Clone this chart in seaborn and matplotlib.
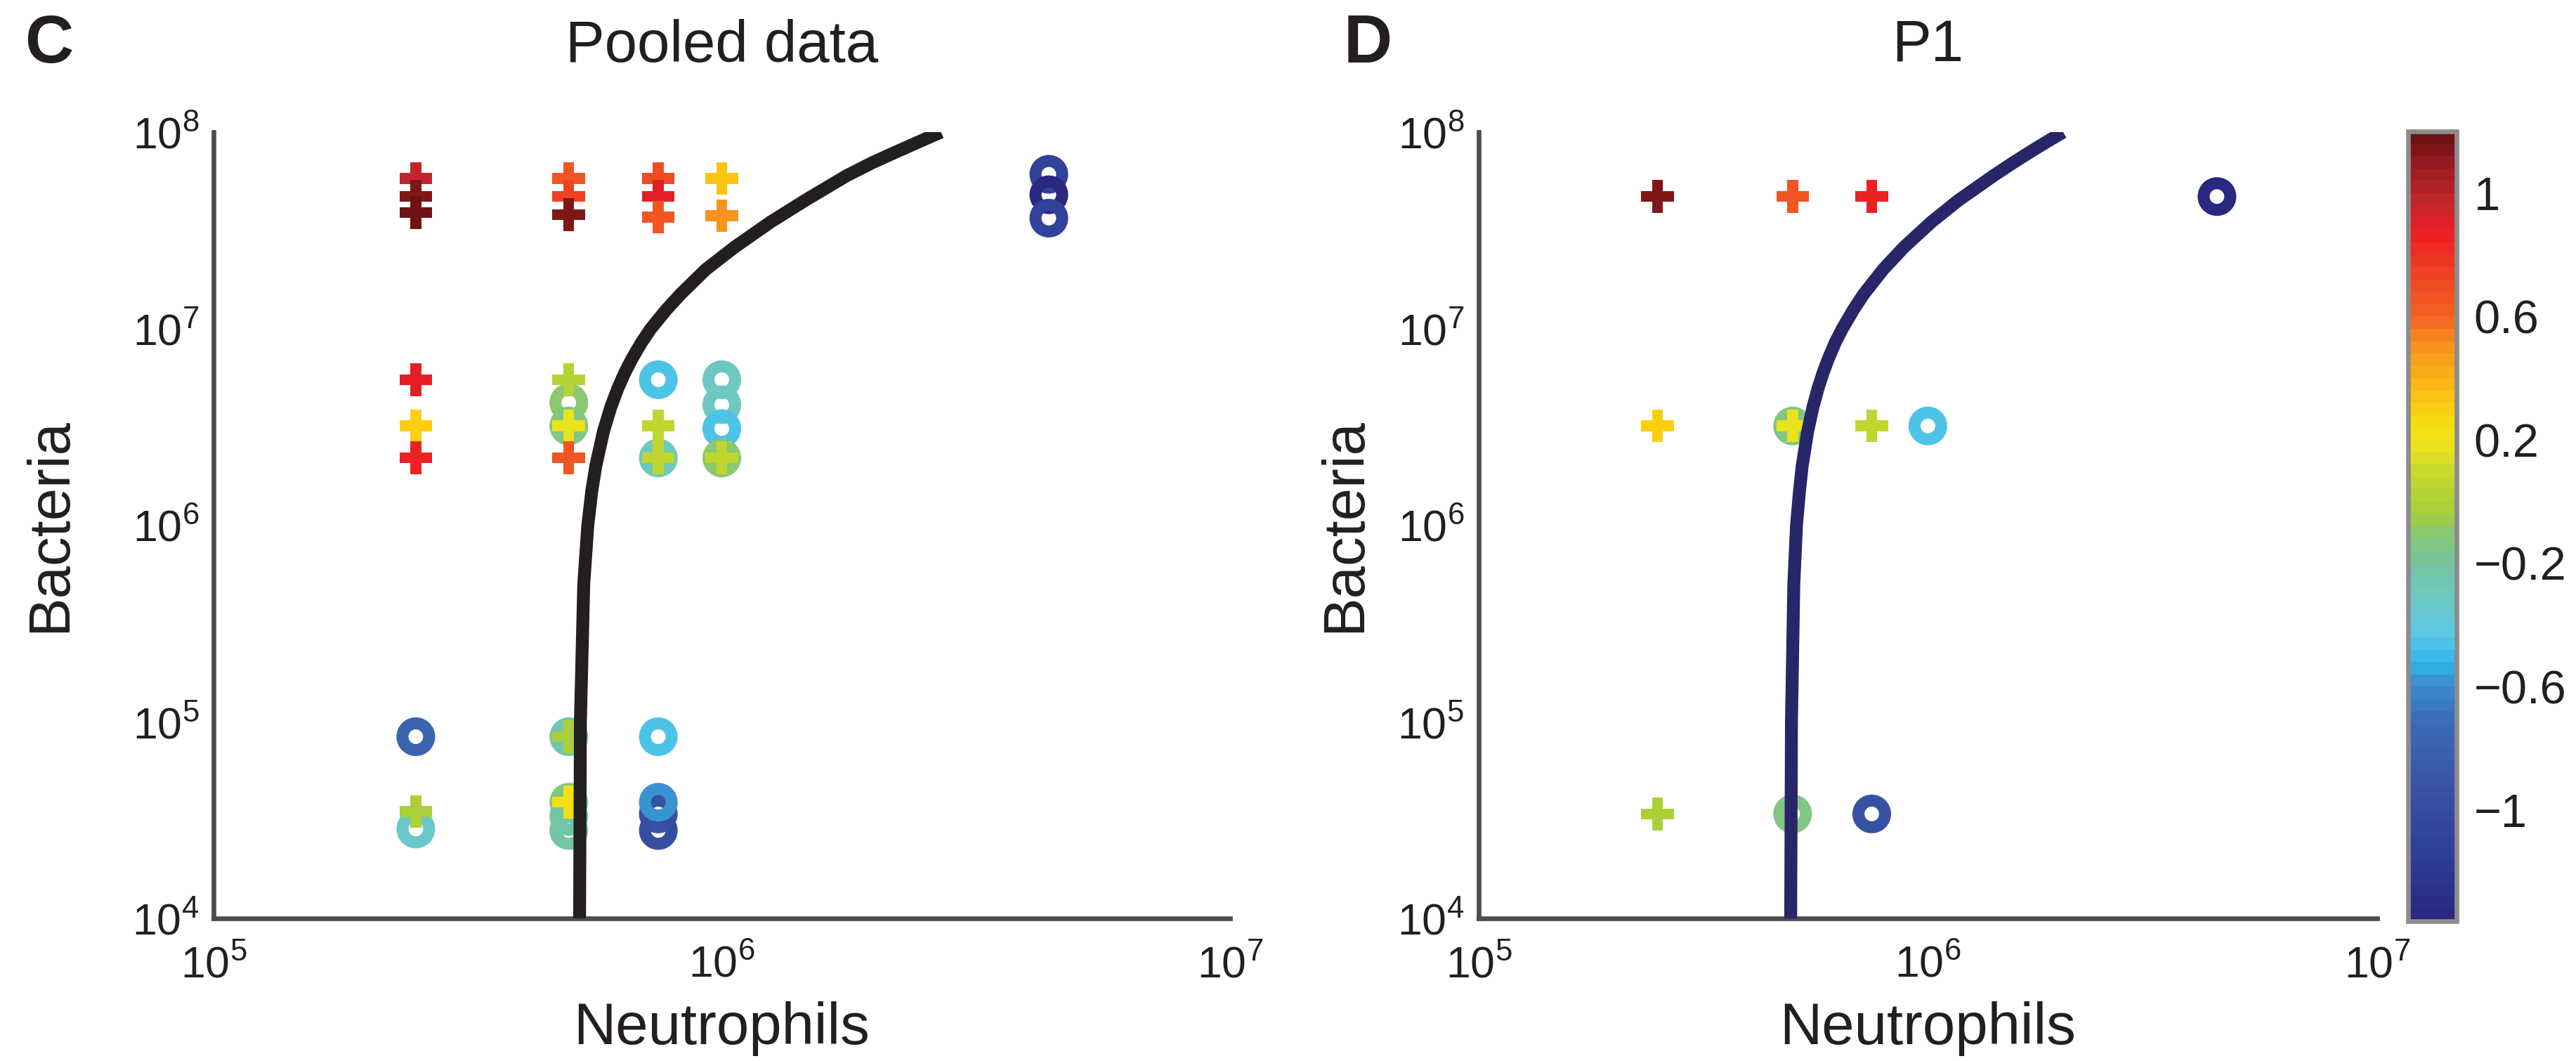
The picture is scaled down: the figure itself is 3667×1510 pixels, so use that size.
import numpy as np
import pandas as pd
import matplotlib
matplotlib.use("Agg")
import matplotlib.pyplot as plt
import seaborn as sns
from matplotlib import font_manager
from matplotlib.colors import LinearSegmentedColormap, ListedColormap, Normalize
from matplotlib.cm import ScalarMappable
from matplotlib.ticker import FixedLocator, LogLocator, NullFormatter

# ---------------- data ----------------
# Panel C: pooled data.  "+" = cleared, "o" = not cleared; value = colour scale
c_plus_neut = [2.5e5, 2.5e5, 2.5e5, 5e5, 5e5, 5e5, 7.5e5, 7.5e5, 7.5e5, 1e6, 1e6,
               2.5e5, 2.5e5, 2.5e5, 5e5, 5e5, 5e5, 7.5e5, 7.5e5, 1e6,
               2.5e5, 5e5, 5e5]
c_plus_bact = [5.8e7, 4.7e7, 3.9e7, 5.8e7, 4.7e7, 3.8e7, 5.8e7, 4.7e7, 3.7e7, 5.8e7, 3.75e7,
               5.5e6, 3.2e6, 2.2e6, 5.5e6, 3.2e6, 2.2e6, 3.2e6, 2.2e6, 2.2e6,
               3.5e4, 8.4e4, 3.9e4]
c_plus_val = [0.97, 1.15, 1.17, 0.65, 0.72, 1.15, 0.68, 0.88, 0.65, 0.35, 0.50,
              0.88, 0.28, 0.85, 0.00, 0.17, 0.65, 0.07, 0.07, 0.07,
              -0.03, -0.03, 0.20]

c_ring_neut = [4.4e6, 4.4e6, 4.4e6, 5e5, 5e5, 7.5e5, 7.5e5, 1e6, 1e6, 1e6, 1e6,
               2.5e5, 2.5e5, 5e5, 5e5, 5e5, 5e5, 7.5e5, 7.5e5, 7.5e5, 7.5e5]
c_ring_bact = [6.1e7, 4.8e7, 3.65e7, 4.2e6, 3.2e6, 5.5e6, 2.2e6, 5.5e6, 4.1e6, 3.1e6, 2.2e6,
               8.4e4, 2.85e4, 8.4e4, 3.9e4, 3.3e4, 2.8e4, 8.4e4, 3.4e4, 2.8e4, 3.9e4]
c_ring_val = [-1.10, -1.34, -1.12, -0.10, -0.15, -0.45, -0.30, -0.30, -0.32, -0.45, -0.10,
              -0.80, -0.33, -0.25, -0.15, -0.22, -0.22, -0.45, -0.95, -1.00, -0.60]

# Panel D: patient P1
d_plus_neut = [2.5e5, 5e5, 7.5e5, 2.5e5, 5e5, 7.5e5, 2.5e5]
d_plus_bact = [4.7e7, 4.7e7, 4.7e7, 3.2e6, 3.2e6, 3.2e6, 3.4e4]
d_plus_val = [1.15, 0.65, 0.87, 0.28, 0.17, 0.07, -0.03]

d_ring_neut = [4.4e6, 5e5, 1e6, 5e5, 7.5e5]
d_ring_bact = [4.7e7, 3.2e6, 3.2e6, 3.4e4, 3.4e4]
d_ring_val = [-1.34, -0.15, -0.45, -0.15, -0.95]

# Critical boundary curves (neutrophil level at each bacteria level)
boundary_bact = [1e4, 1e5, 5e5, 1e6, 1.5e6, 2e6, 3e6, 4e6, 5e6, 6e6, 7e6, 8.5e6,
                 1e7, 1.25e7, 1.5e7, 2e7, 2.6e7, 3.5e7, 4.5e7, 6e7, 7e7, 8e7, 9e7, 1e8]
c_boundary_neut = [5.25e5, 5.27e5, 5.35e5, 5.45e5, 5.55e5, 5.65e5, 5.85e5, 6.05e5,
                   6.25e5, 6.45e5, 6.65e5, 6.95e5, 7.25e5, 7.78e5, 8.30e5, 9.30e5,
                   1.06e6, 1.25e6, 1.46e6, 1.76e6, 1.98e6, 2.22e6, 2.46e6, 2.70e6]
d_boundary_neut = [4.95e5, 4.97e5, 5.03e5, 5.10e5, 5.18e5, 5.25e5, 5.40e5, 5.55e5,
                   5.70e5, 5.85e5, 6.00e5, 6.22e5, 6.45e5, 6.83e5, 7.20e5, 7.95e5,
                   8.85e5, 1.02e6, 1.17e6, 1.40e6, 1.55e6, 1.70e6, 1.85e6, 2.00e6]

color_limits = (-1.36, 1.2)
cbar_ticks = [1, 0.6, 0.2, -0.2, -0.6, -1]
cbar_labels = ["1", "0.6", "0.2", "\u22120.2", "\u22120.6", "\u22121"]

# ---------------- style ----------------
sns.set_theme(style="white")
plt.rcParams["font.family"] = ["Liberation Sans", "DejaVu Sans"]

# narrow face for the power-of-ten tick labels, if present
_installed = {f.name for f in font_manager.fontManager.ttflist}
TICK_FONT = "Liberation Sans Narrow" if "Liberation Sans Narrow" in _installed else "Liberation Sans"
plt.rcParams["mathtext.fontset"] = "custom"
plt.rcParams["mathtext.rm"] = TICK_FONT
plt.rcParams["mathtext.it"] = TICK_FONT + ":italic"
plt.rcParams["mathtext.bf"] = TICK_FONT + ":bold"
plt.rcParams["mathtext.default"] = "regular"

INK = "#231f20"
SPINE = "#4d4d4d"
TICK_FS = 15
CBAR_FS = 16

# jet-like colour scale as it appears in print
_pos = [0.00, 0.08, 0.17, 0.25, 0.30, 0.325, 0.36, 0.41, 0.455, 0.49, 0.52, 0.57,
        0.61, 0.64, 0.69, 0.73, 0.77, 0.82, 0.88, 0.92, 0.96, 1.00]
_cols = ["#29297f", "#2e3f98", "#3a55a5", "#3b6cb7", "#3a8fcf", "#2fb7ec", "#5cc8e6",
         "#6ec8c0", "#76c49c", "#8cc771", "#a6ce39", "#c8d92e", "#efe51a", "#fbd80f",
         "#fbb117", "#f7941d", "#f26522", "#ef4723", "#ed1c24", "#c1272d", "#9c1b1f",
         "#6e1214"]
_smooth = LinearSegmentedColormap.from_list("printed_jet", list(zip(_pos, _cols)))
cmap = ListedColormap(_smooth(np.linspace(0, 1, 64)), name="printed_jet64")
norm = Normalize(*color_limits)

fig = plt.figure(figsize=(3667 / 300, 1510 / 300), dpi=300)
axC = fig.add_axes([0.0829, 0.1344, 0.3946, 0.7411])
axD = fig.add_axes([0.5740, 0.1344, 0.3488, 0.7411])
cax = fig.add_axes([0.9348, 0.1318, 0.0188, 0.7444])


def draw_panel(ax, plus_n, plus_b, plus_v, ring_n, ring_b, ring_v, curve_n, line_color):
    ax.set_xscale("log")
    ax.set_yscale("log")
    ax.set_xlim(1e5, 1e7)
    ax.set_ylim(1e4, 1e8)

    rings = pd.DataFrame({"neut": ring_n, "bact": ring_b, "val": ring_v})
    sns.scatterplot(data=rings, x="neut", y="bact", hue="val", palette=cmap,
                    hue_norm=norm, marker="o", s=83, linewidth=0, legend=False,
                    ax=ax, zorder=2)
    coll = ax.collections[-1]
    cols = coll.get_facecolors()
    coll.set_facecolors("none")
    coll.set_edgecolors(cols)
    coll.set_linewidths(4.1)

    plus = pd.DataFrame({"neut": plus_n, "bact": plus_b, "val": plus_v})
    sns.scatterplot(data=plus, x="neut", y="bact", hue="val", palette=cmap,
                    hue_norm=norm, marker="P", s=125, linewidth=0, legend=False,
                    ax=ax, zorder=3)

    sns.lineplot(x=curve_n, y=boundary_bact, sort=False, estimator=None,
                 color=line_color, linewidth=4.4, ax=ax, zorder=4,
                 solid_capstyle="butt", solid_joinstyle="round")

    ax.xaxis.set_major_locator(FixedLocator([1e5, 1e6, 1e7]))
    ax.yaxis.set_major_locator(FixedLocator([1e4, 1e5, 1e6, 1e7, 1e8]))
    for axis in (ax.xaxis, ax.yaxis):
        axis.set_minor_locator(LogLocator(base=10, subs=np.arange(2, 10)))
        axis.set_minor_formatter(NullFormatter())
    ax.tick_params(which="both", direction="in", top=False, right=False,
                   color="#333333", width=1.0)
    ax.tick_params(which="major", length=4.5, labelsize=TICK_FS, labelcolor=INK)
    ax.tick_params(axis="x", which="major", pad=9)
    ax.tick_params(axis="y", which="major", pad=5)
    ax.tick_params(which="minor", length=3.0)
    for side in ("top", "right"):
        ax.spines[side].set_visible(False)
    for side in ("left", "bottom"):
        ax.spines[side].set_color(SPINE)
        ax.spines[side].set_linewidth(1.6)
    ax.set_xlabel("Neutrophils", fontsize=20, color=INK)
    ax.set_ylabel("Bacteria", fontsize=20, color=INK)
    ax.xaxis.set_label_coords(0.5, -0.105)


draw_panel(axC, c_plus_neut, c_plus_bact, c_plus_val,
           c_ring_neut, c_ring_bact, c_ring_val, c_boundary_neut, INK)
draw_panel(axD, d_plus_neut, d_plus_bact, d_plus_val,
           d_ring_neut, d_ring_bact, d_ring_val, d_boundary_neut, "#272668")

axC.yaxis.set_label_coords(-0.134, 0.5)
axD.yaxis.set_label_coords(-0.119, 0.5)

axC.set_title("Pooled data", fontsize=20, color=INK, pad=24)
axD.set_title("P1", fontsize=20, color=INK, pad=24)

fig.text(35 / 3667, 1 - 89 / 1510, "C", fontsize=23, fontweight="bold",
         color=INK, va="baseline", ha="left")
fig.text(1913 / 3667, 1 - 89 / 1510, "D", fontsize=23, fontweight="bold",
         color=INK, va="baseline", ha="left")

# colour bar
cbar = fig.colorbar(ScalarMappable(norm=norm, cmap=cmap), cax=cax)
cbar.set_ticks(cbar_ticks)
cbar.set_ticklabels(cbar_labels)
cax.tick_params(direction="in", left=True, right=True, length=3.0, width=1.0,
                color="#555555", labelsize=CBAR_FS, labelcolor=INK, pad=6)
cbar.outline.set_edgecolor("#8c8c8c")
cbar.outline.set_linewidth(1.6)

fig.savefig("out.png", dpi=300, facecolor="white")
